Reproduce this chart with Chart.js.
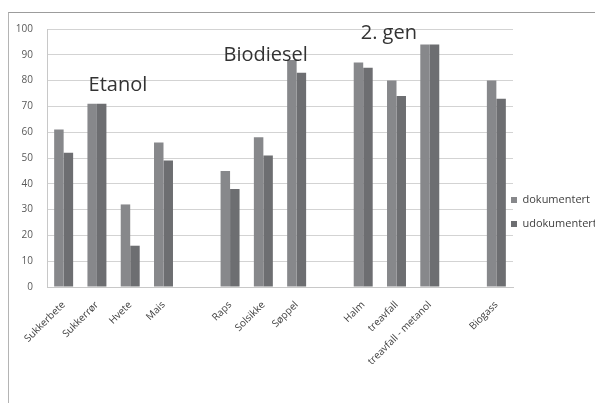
<!DOCTYPE html>
<html lang="no">
<head>
<meta charset="UTF-8">
<title>Biodrivstoff</title>
<script src="https://cdn.jsdelivr.net/npm/chart.js"></script>
<style>
  body { margin: 0; background: #fff; }
  .ramme { position: absolute; left: 8px; top: 12px; width: 600px; height: 400px;
           border-top: 1px solid #9c9c9c; border-left: 1px solid #b4b4b4; }
  #graf { position: absolute; left: 0; top: 0; }
</style>
</head>
<body>
<div class="ramme"></div>
<canvas id="graf" width="595" height="403"></canvas>

<script>
// kategorier (tomme navn = mellomrom mellom gruppene)
var kategorier = ['Sukkerbete', 'Sukkerrør', 'Hvete', 'Mais', '', 'Raps', 'Solsikke', 'Søppel', '',
                  'Halm', 'treavfall', 'treavfall - metanol', '', 'Biogass'];
var dokumentert = [61, 71, 32, 56, null, 45, 58, 88, null, 87, 80, 94, null, 80];
var udokumentert = [52, 71, 16, 49, null, 38, 51, 83, null, 85, 74, 94, null, 73];
var yTicks = [0, 10, 20, 30, 40, 50, 60, 70, 80, 90, 100];

// gruppe-overskrifter: tekst, kategori-indeks, verdi (grunnlinje)
var overskrifter = ['Etanol', 'Biodiesel', '2. gen'];
var overskriftX = [1.63, 6.07, 9.77];
var overskriftY = [76, 87.6, 96];

var skrift = '"Open Sans", "Liberation Sans", sans-serif';
var legendeBredde = 82;

// tegner gruppe-overskriftene inne i plottet
const overskriftPlugin = {
    id: 'overskrifter',
    afterDatasetsDraw(chart) {
        const ctx = chart.ctx;
        const xs = chart.scales.x, ys = chart.scales.y;
        ctx.save();
        ctx.font = '20px ' + skrift;
        ctx.fillStyle = '#333333';
        ctx.textAlign = 'center';
        ctx.textBaseline = 'alphabetic';
        for (let i = 0; i < overskrifter.length; i++) {
            ctx.fillText(overskrifter[i], xs.getPixelForValue(overskriftX[i]), ys.getPixelForValue(overskriftY[i]));
        }
        ctx.restore();
    }
};

// fast bredde på legenden, og flytt den litt inn mot plottet
const legendePlugin = {
    id: 'legendeBredde',
    beforeLayout(chart) {
        const lg = chart.legend;
        if (lg && !lg._fastBredde) {
            const fit = lg.fit.bind(lg);
            lg.fit = function () { fit(); this.width = legendeBredde; };
            lg._fastBredde = true;
        }
    },
    afterLayout(chart) {
        if (chart.legend) {
            chart.legend.left -= 15;
            chart.legend.right = chart.width + 20;
        }
    }
};

const config = {
    type: 'bar',
    data: {
        labels: kategorier,
        datasets: [{
            label: 'dokumentert',
            data: dokumentert,
            backgroundColor: '#87888b'
        }, {
            label: 'udokumentert',
            data: udokumentert,
            backgroundColor: '#6d6e71'
        }]
    },
    options: {
        responsive: false,
        devicePixelRatio: 1,
        animation: false,
        layout: { padding: { top: 29, left: 0, right: 0, bottom: 8 } },
        datasets: { bar: { barPercentage: 1, categoryPercentage: 0.57 } },
        plugins: {
            tooltip: { enabled: false },
            legend: {
                position: 'right',
                labels: {
                    boxWidth: 6, boxHeight: 6, padding: 13,
                    color: '#404040',
                    font: { family: skrift, size: 11 }
                }
            }
        },
        scales: {
            x: {
                grid: { display: false, drawTicks: false },
                border: { color: '#c8c8c8' },
                ticks: {
                    autoSkip: false, minRotation: 45, maxRotation: 45, padding: 12,
                    color: '#404040', font: { family: skrift, size: 10 }
                },
                afterFit(scale) { scale.height = 108; }
            },
            y: {
                min: 0, max: 100,
                afterBuildTicks(scale) { scale.ticks = yTicks.map(v => ({ value: v })); },
                grid: { color: '#d3d3d3', drawTicks: false },
                border: { color: '#c8c8c8' },
                ticks: { padding: 14, color: '#595959', font: { family: skrift, size: 10 } },
                afterFit(scale) { scale.width = 47; }
            }
        }
    },
    plugins: [overskriftPlugin, legendePlugin]
};

new Chart(document.getElementById('graf'), config);
</script>
</body>
</html>
